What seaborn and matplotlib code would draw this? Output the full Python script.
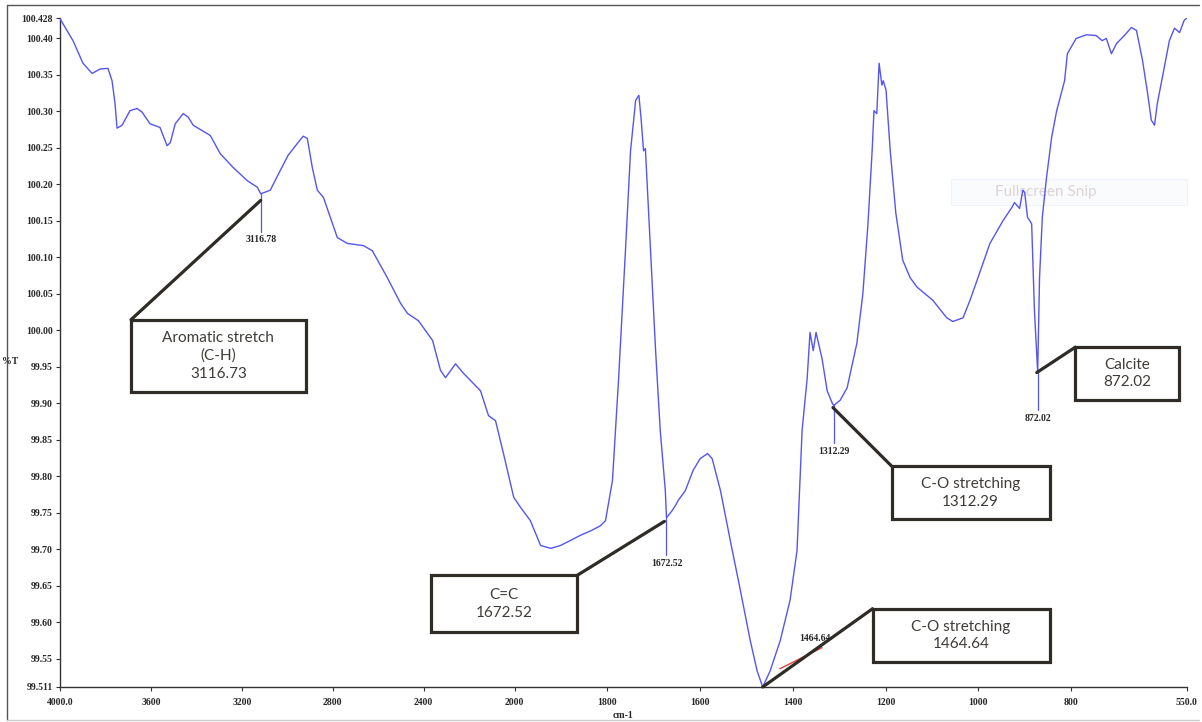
import numpy as np
import pandas as pd
import matplotlib.pyplot as plt
import seaborn as sns
from matplotlib.patches import Rectangle
from matplotlib.lines import Line2D

# THE DATA ***********************************************************************

wavenumber = [4000, 3943, 3899, 3859, 3824, 3789, 3771, 3758, 3749, 3727, 3692, 3661, 3639, 3604,
              3560, 3529, 3515, 3493, 3458, 3436, 3414, 3339, 3295, 3238, 3176, 3132, 3117, 3075,
              3031, 2996, 2956, 2930, 2912, 2890, 2868, 2841, 2811, 2780, 2736, 2665, 2626, 2560,
              2502, 2471, 2423, 2361, 2326, 2304, 2260, 2225, 2150, 2115, 2084, 2049, 2004, 1987,
              1966, 1944, 1922, 1901, 1879, 1858, 1836, 1815, 1804, 1789, 1776, 1761, 1750, 1739,
              1732, 1727, 1722, 1718, 1707, 1696, 1686, 1675, 1672.5, 1660, 1653, 1647, 1632, 1615,
              1600, 1584, 1574, 1556, 1535, 1513, 1492, 1477, 1465, 1449, 1427, 1406, 1391, 1380,
              1369, 1363, 1356, 1350, 1337, 1326, 1315, 1312, 1298, 1283, 1262, 1249, 1238, 1229,
              1225, 1219, 1214, 1208, 1205, 1199, 1190, 1178, 1163, 1147, 1132, 1098, 1068, 1055,
              1033, 1018, 1003, 975, 947, 928, 922, 911, 904, 900, 894, 885, 879, 872, 868, 862,
              853, 842, 831, 814, 808, 789, 767, 746, 733, 724, 713, 702, 685, 670, 659, 646, 635,
              627, 620, 614, 603, 588, 577, 566, 556, 550]

transmittance = [100.427, 100.397, 100.366, 100.352, 100.358, 100.359, 100.342, 100.311, 100.277,
                 100.281, 100.301, 100.304, 100.299, 100.283, 100.278, 100.253, 100.257, 100.283,
                 100.297, 100.292, 100.281, 100.267, 100.242, 100.223, 100.205, 100.196, 100.187,
                 100.192, 100.219, 100.240, 100.256, 100.266, 100.263, 100.223, 100.192, 100.182,
                 100.155, 100.127, 100.119, 100.116, 100.109, 100.072, 100.037, 100.023, 100.013,
                 99.986, 99.945, 99.935, 99.954, 99.941, 99.917, 99.883, 99.876, 99.831, 99.771,
                 99.757, 99.739, 99.705, 99.701, 99.705, 99.712, 99.719, 99.725, 99.732, 99.739,
                 99.794, 99.931, 100.109, 100.246, 100.315, 100.322, 100.288, 100.246, 100.249,
                 100.109, 99.972, 99.863, 99.780, 99.743, 99.753, 99.760, 99.767, 99.780, 99.808,
                 99.824, 99.831, 99.824, 99.780, 99.712, 99.643, 99.575, 99.533, 99.511, 99.533,
                 99.575, 99.630, 99.698, 99.863, 99.935, 99.997, 99.972, 99.997, 99.961, 99.917,
                 99.900, 99.897, 99.904, 99.921, 99.982, 100.050, 100.146, 100.246, 100.301,
                 100.297, 100.366, 100.336, 100.342, 100.329, 100.246, 100.161, 100.096, 100.072,
                 100.059, 100.041, 100.017, 100.012, 100.017, 100.041, 100.068, 100.119, 100.150,
                 100.168, 100.175, 100.167, 100.192, 100.189, 100.155, 100.146, 100.027, 99.942,
                 100.072, 100.155, 100.209, 100.264, 100.301, 100.342, 100.379, 100.400, 100.405,
                 100.404, 100.397, 100.400, 100.379, 100.393, 100.404, 100.415, 100.411, 100.370,
                 100.325, 100.288, 100.281, 100.311, 100.347, 100.397, 100.414, 100.408, 100.425,
                 100.428]

spectrum = pd.DataFrame({'wavenumber': wavenumber, 'T': transmittance})

x_ticks = [4000, 3600, 3200, 2800, 2400, 2000, 1800, 1600, 1400, 1200, 1000, 800, 550]
x_ticklabels = ['4000.0', '3600', '3200', '2800', '2400', '2000', '1800', '1600', '1400',
                '1200', '1000', '800', '550.0']
y_ticks = [99.511, 99.55, 99.60, 99.65, 99.70, 99.75, 99.80, 99.85, 99.90, 99.95, 100.00,
           100.05, 100.10, 100.15, 100.20, 100.25, 100.30, 100.35, 100.40, 100.428]
y_ticklabels = ['99.511', '99.55', '99.60', '99.65', '99.70', '99.75', '99.80', '99.85', '99.90',
                '99.95', '100.00', '100.05', '100.10', '100.15', '100.20', '100.25', '100.30',
                '100.35', '100.40', '100.428']

# peak picks drawn by the instrument software
peak_wn = [3116.78, 1672.52, 1312.29, 872.02]
peak_labels = ['3116.78', '1672.52', '1312.29', '872.02']

# callout boxes: text, point on the curve the leader goes to
box_texts = ['Aromatic stretch\n(C-H)\n3116.73', 'C=C\n1672.52', 'C-O stretching\n1464.64',
             'C-O stretching\n1312.29', 'Calcite\n872.02']
box_anchor_wn = [3117, 1677, 1465, 1313.5, 874]
box_anchor_t = [100.178, 99.738, 99.511, 99.894, 99.942]


# THE CHART **********************************************************************

sns.set_theme(style='white')
plt.rcParams['font.family'] = ['Liberation Serif', 'DejaVu Serif']

serif = {'family': 'Liberation Serif', 'size': 7, 'weight': 'bold'}
sans = 'Lato'

# the scale is compressed by ~2 above 2000 cm-1, like the instrument plot
def fwd(x):
    x = np.asarray(x, dtype=float)
    return np.where(x > 2000, 2000 + (x - 2000) / 2.04, x)

def inv(u):
    u = np.asarray(u, dtype=float)
    return np.where(u > 2000, 2000 + (u - 2000) * 2.04, u)

fig = plt.figure(figsize=(12.02, 7.22), dpi=100)
ax = fig.add_axes([60/1202, 35/722, 1127/1202, 669/722])
ax.set_xscale('function', functions=(fwd, inv))

sns.lineplot(data=spectrum, x='wavenumber', y='T', sort=False, estimator=None,
             color='#5555f2', linewidth=1, ax=ax, zorder=3)

ax.set_xlim(4000, 550)
ax.set_ylim(99.511, 100.428)
ax.set_xticks(x_ticks)
ax.set_xticklabels(x_ticklabels)
ax.set_yticks(y_ticks)
ax.set_yticklabels(y_ticklabels)
for lab in ax.get_xticklabels() + ax.get_yticklabels():
    lab.set(**serif)
ax.minorticks_off()
ax.tick_params(bottom=True, left=True, direction='out', length=3, width=0.8,
               color='#333333', pad=2)
ax.tick_params(axis='x', pad=5)
ax.set_xlabel('')
ax.set_ylabel('')
for s in ['top', 'right']:
    ax.spines[s].set_visible(False)
for s in ['left', 'bottom']:
    ax.spines[s].set_color('#333333')
    ax.spines[s].set_linewidth(1)

# peak picks: thin vertical tick under the curve plus the value
for wn, lab in zip(peak_wn, peak_labels):
    t0 = np.interp(wn, wavenumber[::-1], transmittance[::-1])
    ax.plot([wn, wn], [t0, t0 - 0.052], color='#5555f2', lw=0.9, zorder=3)
    ax.text(wn, t0 - 0.057, lab, ha='center', va='top', fontdict=serif, zorder=4)

# the 1464.64 pick has only a small red mark and label
ax.plot([1428, 1337], [99.536, 99.565], color='#e04040', lw=1, zorder=4)
ax.text(1352, 99.571, '1464.64', ha='center', va='bottom', fontdict=serif, zorder=4)

# callout boxes (axes fraction) and which corner the leader line leaves from
boxes = [(0.063, 0.441, 0.155, 0.108, (0, 1)),
         (0.329, 0.082, 0.130, 0.085, (1, 1)),
         (0.721, 0.037, 0.157, 0.080, (0, 1)),
         (0.738, 0.251, 0.140, 0.079, (0, 1)),
         (0.901, 0.429, 0.092, 0.079, (0, 1))]
dark = '#2f2c27'
for (bx, by, bw, bh, corner), txt, awn, at in zip(boxes, box_texts, box_anchor_wn, box_anchor_t):
    ax.add_patch(Rectangle((bx, by), bw, bh, transform=ax.transAxes, facecolor='white',
                           edgecolor=dark, linewidth=2.3, zorder=6, clip_on=False))
    ax.text(bx + bw/2, by + bh/2, txt, transform=ax.transAxes, ha='center', va='center',
            family=sans, fontsize=11, color='#3f3c38', linespacing=1.35, zorder=7)
    ax.annotate('', xy=(awn, at), xycoords='data',
                xytext=(bx + corner[0]*bw, by + corner[1]*bh), textcoords='axes fraction',
                arrowprops=dict(arrowstyle='-', color=dark, lw=2.3, shrinkA=0, shrinkB=0),
                zorder=5)

# faint screenshot-tool overlay
ax.add_patch(Rectangle((0.791, 0.720), 0.209, 0.040, transform=ax.transAxes,
                       facecolor='#f7f9fd', edgecolor='#e8eef8', linewidth=0.8,
                       alpha=0.6, zorder=2, clip_on=False))
ax.text(0.875, 0.740, 'Fullscreen Snip', transform=ax.transAxes, ha='center', va='center',
        family=sans, fontsize=11, color='#ddd3d3', zorder=2)

# axis titles
fig.text(2/1202, 1 - 362/722, '%T', ha='left', va='center', fontdict=serif)
fig.text(623/1202, 1 - 716/722, 'cm-1', ha='center', va='center', fontdict=serif)

# frame around the screenshot
fig.add_artist(Line2D([7/1202, 7/1202], [1 - 720/722, 1 - 5/722], transform=fig.transFigure,
                      color='#555555', lw=1))
fig.add_artist(Line2D([7/1202, 1199/1202], [1 - 5/722, 1 - 5/722], transform=fig.transFigure,
                      color='#555555', lw=1))
fig.add_artist(Line2D([7/1202, 1199/1202], [1 - 720/722, 1 - 720/722], transform=fig.transFigure,
                      color='#cccccc', lw=1))

plt.savefig('out.png', dpi=100)
